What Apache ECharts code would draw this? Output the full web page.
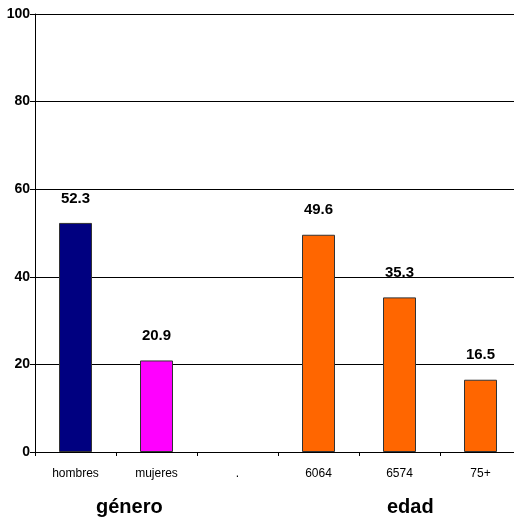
<!DOCTYPE html>
<html><head><meta charset="utf-8">
<script src="https://cdn.jsdelivr.net/npm/echarts@6/dist/echarts.min.js"></script>
<style>html,body{margin:0;padding:0;background:#fff;overflow:hidden}#c{width:514px;height:523px}</style>
</head><body><div id="c"></div>
<script>
const categories = ['hombres', 'mujeres', '.', '60-64', '65-74', '75+'];
const values = [52.3, 20.9, null, 49.6, 35.3, 16.5];
const barColors = ['#000080', '#FF00FF', '#FF6600', '#FF6600', '#FF6600', '#FF6600'];
const yTicks = [0, 20, 40, 60, 80, 100];
const groupLabels = ['género', 'edad'];

const chart = echarts.init(document.getElementById('c'), null, {renderer: 'canvas'});
const font = 'Arial, Liberation Sans, sans-serif';
chart.setOption({
  animation: false,
  backgroundColor: '#fff',
  grid: {left: 35, width: 486, top: 14, height: 438, containLabel: false, outerBoundsMode: 'none'},
  xAxis: {
    type: 'category', data: categories, boundaryGap: true,
    axisLine: {lineStyle: {color: '#000', width: 1}},
    axisTick: {show: true, alignWithLabel: false, length: 4, lineStyle: {color: '#000'}},
    axisLabel: {color: '#000', fontSize: 12, fontFamily: font, margin: 16,
      formatter: v => v.replace('-', '')}
  },
  yAxis: {
    type: 'value', min: 0, max: 100, interval: 20,
    axisLine: {show: true, lineStyle: {color: '#000'}},
    axisTick: {show: true, length: 5, lineStyle: {color: '#000'}},
    splitLine: {show: true, lineStyle: {color: '#000', width: 1}},
    axisLabel: {color: '#000', fontSize: 14, fontWeight: 'bold', fontFamily: font, margin: 5,
      formatter: v => yTicks.includes(v) ? String(v) : ''}
  },
  series: [{
    type: 'bar', barWidth: 33,
    data: values.map((v, i) => ({value: v, itemStyle: {color: barColors[i]}})),
    itemStyle: {borderColor: '#333', borderWidth: 1},
    label: {show: true, position: 'top', distance: 17, color: '#000', fontSize: 15,
      fontWeight: 'bold', fontFamily: font,
      formatter: p => p.value == null ? '' : p.value.toFixed(1)}
  }],
  graphic: [
    {type: 'text', left: 96, top: 497, style: {text: groupLabels[0], fill: '#000', font: 'bold 20px Arial, Liberation Sans, sans-serif'}},
    {type: 'text', left: 387, top: 497, style: {text: groupLabels[1], fill: '#000', font: 'bold 20px Arial, Liberation Sans, sans-serif'}}
  ]
});
</script></body></html>
